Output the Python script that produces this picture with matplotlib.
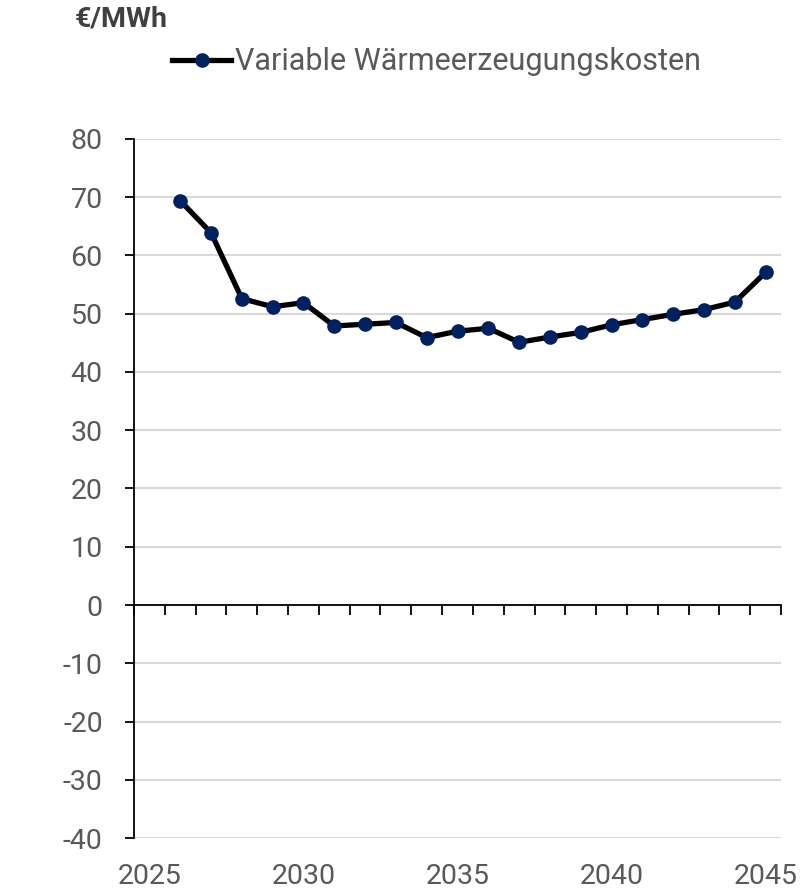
import matplotlib.pyplot as plt
import numpy as np

# data
years = list(range(2026, 2046))
costs = [69.4, 63.9, 52.6, 51.2, 51.9, 47.9, 48.2, 48.5, 45.9, 47.0,
         47.5, 45.1, 46.0, 46.8, 48.1, 49.0, 49.9, 50.7, 52.0, 57.1]
label_years = [2025, 2030, 2035, 2040, 2045]
y_ticks = list(range(-40, 81, 10))

plt.rcParams['font.family'] = ['Roboto', 'DejaVu Sans']
grey = '#595959'
fs = 20.5

fig = plt.figure(figsize=(8, 8.96), dpi=100)
ax = fig.add_axes([0.1675, 0.0647, 0.8088, 0.7802])

ax.plot(years, costs, color='black', lw=3.8, marker='o', ms=9.5,
        mfc='#002060', mec='#002060', zorder=3,
        label='Variable Wärmeerzeugungskosten')

ax.set_xlim(2024.5, 2045.5)
ax.set_ylim(-40, 80)
ax.set_yticks(y_ticks)
ax.set_yticklabels([str(v) for v in y_ticks])
ax.grid(axis='y', color='#d9d9d9', lw=1.5, zorder=0)
ax.set_axisbelow(True)

for s in ['top', 'right']:
    ax.spines[s].set_visible(False)
ax.spines['bottom'].set_position(('data', 0))
ax.spines['left'].set_linewidth(1.3)
ax.spines['bottom'].set_linewidth(1.3)

# category tick marks along the zero line
ax.set_xticks(np.arange(2024.5, 2046, 1.0))
ax.set_xticklabels([])
ax.tick_params(axis='x', direction='out', length=7, width=1.3)
ax.tick_params(axis='y', direction='out', length=6.5, width=1.3,
               labelsize=fs, labelcolor=grey, pad=16)

# year labels at the bottom of the plot
sec = ax.secondary_xaxis(0)
sec.set_xticks(label_years)
sec.set_xticklabels([str(y) for y in label_years])
sec.spines['bottom'].set_visible(False)
sec.tick_params(length=0, pad=18, labelsize=fs, labelcolor=grey)

fig.text(0.094, 0.979, '€/MWh', fontsize=fs, fontweight='bold',
         color='#404040', ha='left', va='center')

fig.legend(loc='center', bbox_to_anchor=(0.546, 1 - 62 / 896), frameon=False,
           fontsize=22, handlelength=1.9, handletextpad=0.15, labelcolor=grey)

fig.savefig('out.png', dpi=100)
